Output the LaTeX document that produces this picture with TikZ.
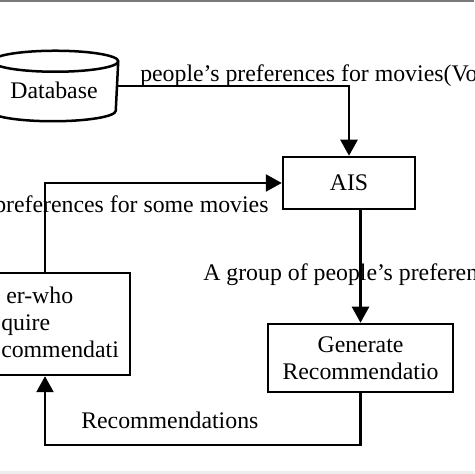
\documentclass[tikz,border=0pt]{standalone}
\usepackage{fontspec}
\setmainfont{Liberation Serif}
\usetikzlibrary{arrows.meta,calc}

\begin{document}
\begin{tikzpicture}[x=0.5pt,y=0.5pt,
    font=\fontsize{11.9}{13.5}\selectfont,
    line width=1.25pt,
    box/.style={draw,rectangle,inner sep=0pt,align=center},
    flow/.style={-{Triangle[length=8pt,width=8.5pt]}},
    lbl/.style={anchor=base west,inner sep=0pt}]
      \useasboundingbox (0,0) rectangle (474,474);
      \clip (0,0) rectangle (474,474);
      \fill[gray!95!black] (0,472) rectangle (474,474);
      \fill[black!7] (0,0) rectangle (474,3);

      % database cylinder
      \node[inner sep=0pt,minimum width=126*0.5pt,minimum height=68*0.5pt,
            text height=13pt,text depth=0pt] (db) at (54,388) {Database};
      \draw ([yshift=-5.25pt]db.north west) -- ([yshift=5.25pt]db.south west)
            arc[start angle=180,end angle=360,x radius=63,y radius=10.5]
            -- ([yshift=-5.25pt]db.north east)
            arc[start angle=0,end angle=360,x radius=63,y radius=10.5];

      \node[box,minimum width=132*0.5pt,minimum height=52*0.5pt] (ais) at (349,291) {AIS};
      \node[box,minimum width=185*0.5pt,minimum height=68*0.5pt] (gen) at (360.5,116) {Generate\\Recommendatio};
      \node[box,minimum width=170*0.5pt,minimum height=102*0.5pt] (user) at (45,150) {};
      \node[anchor=north west,inner sep=0pt,align=left] (usertext) at (0,188)
            {\hspace{2.5pt}er-who\\quire\\commendati};

      \coordinate (bend) at (360.5,29);
      \draw[flow] (db.east) -- (db.east -| ais.north) -- (ais.north);
      \draw[flow] (user.north) -- (user.north |- ais.west) -- (ais.west);
      \draw[flow] (ais.south -| gen.north) -- (gen.north);
      \draw[flow] (gen.south) -- (bend) -- (bend -| user.south) -- (user.south);

      \node[lbl] (lvote) at (139,392) {people’s preferences for movies(Vo};
      \node[lbl] (lsome) at (-7,261) {preferences for some movies};
      \node[lbl] (lgroup) at (202,193) {A group of people’s preferen};
      \node[lbl] (lrec) at (80,45) {Recommendations};
\end{tikzpicture}
\end{document}
